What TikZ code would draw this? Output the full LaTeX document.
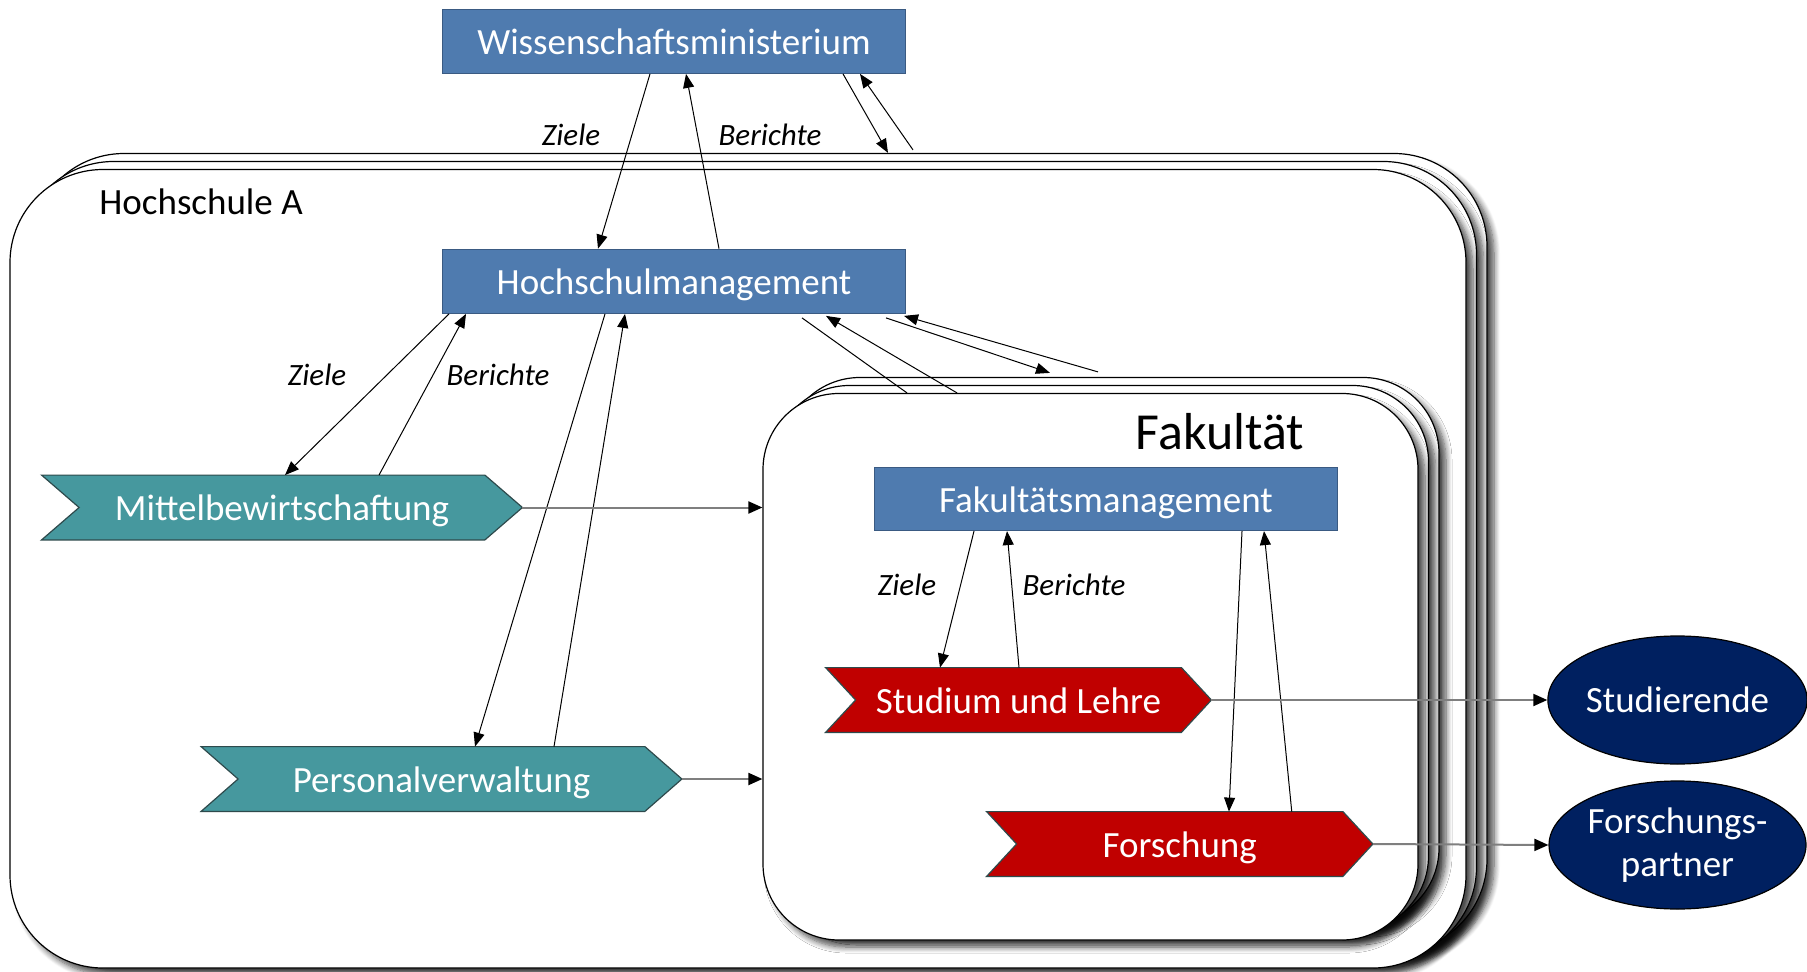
\documentclass[tikz,border=0pt]{standalone}
\usepackage{fontspec}
\setmainfont{Carlito}
\usetikzlibrary{arrows.meta,shadows.blur,shapes.geometric}
\definecolor{boxblue}{HTML}{4F7BAF}
\definecolor{boxline}{HTML}{3A5A82}
\definecolor{tealc}{HTML}{46989E}
\definecolor{redc}{HTML}{C00000}
\definecolor{navyc}{HTML}{002060}
\definecolor{flowgray}{HTML}{7F7F7F}
\definecolor{chevline}{HTML}{2E4A4C}
\pgfdeclarelayer{base}
\pgfdeclarelayer{bg}
\pgfsetlayers{base,bg,main}
\newcommand\mainfs{\fontsize{18.5pt}{21pt}\selectfont}
\newcommand\mychev[3]{%
  \begin{pgfonlayer}{bg}
  \draw[line width=0.6pt, draw=chevline, fill=#3] (#1.north west) -- ([xshift=-#2]#1.north east) -- (#1.east)
    -- ([xshift=-#2]#1.south east) -- (#1.south west) -- ([xshift=#2]#1.west) -- cycle;
  \end{pgfonlayer}}
\begin{document}
\begin{tikzpicture}[x=0.5pt,y=-0.5pt,
  stackbig/.style={draw=black, line width=0.6pt, fill=white, rounded corners=46.5pt, inner sep=0pt,
    minimum width=728pt, minimum height=399.25pt,
    blur shadow={shadow xshift=3.5pt, shadow yshift=-3.5pt, shadow blur radius=3pt, shadow blur steps=8, shadow opacity=70}},
  stackfak/.style={draw=black, line width=0.6pt, fill=white, rounded corners=38pt, inner sep=0pt,
    minimum width=327.5pt, minimum height=273.25pt,
    blur shadow={shadow xshift=3.5pt, shadow yshift=-3.5pt, shadow blur radius=3pt, shadow blur steps=8, shadow opacity=70}},
  fixtext/.style={text height=13.5pt, text depth=0.5pt},
  bluebox/.style={draw=boxline, line width=0.6pt, fill=boxblue, text=white, font=\mainfs, fixtext,
    inner sep=0pt, minimum width=231.5pt, minimum height=32pt},
  chevnode/.style={inner sep=0pt, text=white, font=\mainfs, fixtext, minimum height=32pt},
  oval/.style={ellipse, draw=black, line width=0.6pt, fill=navyc, text=white,
    font=\fontsize{18.5pt}{21.8pt}\selectfont,
    inner sep=0pt, minimum width=128.5pt, minimum height=64pt, align=center},
  lbl/.style={font=\fontsize{15.5pt}{18pt}\selectfont\itshape, inner sep=0pt},
  conn/.style={line width=0.5pt, -{Triangle[length=7pt,width=5.5pt]}},
  flow/.style={draw=flowgray, line width=1pt, -{Triangle[length=7pt,width=6pt,color=black]}}
]
\useasboundingbox (0,0) rectangle (1807,972);

% stacked containers
\begin{pgfonlayer}{base}
\node[stackbig] (hsC) at (759,552.75) {};
\node[stackbig] (hsB) at (748.5,560.75) {};
\node[stackbig] (hsA) at (738,568.75) {};
\node[stackfak] (fakC) at (1111.5,650.75) {};
\node[stackfak] (fakB) at (1101,658.75) {};
\node[stackfak] (fak) at (1090.5,666.75) {};
\end{pgfonlayer}

\node[anchor=west, font=\mainfs, inner sep=0pt] (hsAlbl) at (99,202) {Hochschule A};
\node[font=\fontsize{26pt}{30pt}\selectfont, inner sep=0pt] (faklbl) at (1220,432) {Fakultät};

% boxes
\node[bluebox] (wiss) at (674,41.3) {Wissenschaftsministerium};
\node[bluebox] (hm) at (674,281.3) {Hochschulmanagement};
\node[bluebox, minimum width=231.7pt, minimum height=31.5pt] (fm) at (1106,499) {Fakultätsmanagement};

% chevrons
\node[chevnode, minimum width=240pt] (mittel) at (282,507.5) {Mittelbewirtschaftung};
\mychev{mittel}{18.75pt}{tealc}
\node[chevnode, minimum width=240pt] (personal) at (441.5,779) {Personalverwaltung};
\mychev{personal}{18.5pt}{tealc}
\node[chevnode, minimum width=192.5pt] (studium) at (1018.5,700) {Studium und Lehre};
\mychev{studium}{15pt}{redc}
\node[chevnode, minimum width=192.75pt] (forschung) at (1179.75,844) {Forschung};
\mychev{forschung}{15pt}{redc}

% ellipses
\node[oval] (stud) at (1677.5,700) {Studierende};
\node[oval] (fpartner) at (1677.5,845) {Forschungs-\\partner};

% labels
\node[lbl] (z1) at (571,135) {Ziele};
\node[lbl] (b1) at (770,135) {Berichte};
\node[lbl] (z2) at (317,375) {Ziele};
\node[lbl] (b2) at (498,375) {Berichte};
\node[lbl] (z3) at (907,585) {Ziele};
\node[lbl] (b3) at (1074,585) {Berichte};

% connectors
\draw[conn] ([xshift=-12pt]wiss.south) -- ([xshift=-38pt]hm.north);
\draw[conn] ([xshift=22.5pt]hm.north) -- ([xshift=6pt]wiss.south);
\draw[conn] ([xshift=84.5pt]wiss.south) -- ([xshift=64.5pt]hsC.north);
\draw[conn] ([xshift=77pt,yshift=1.5pt]hsC.north) -- ([xshift=93pt]wiss.south);

\draw[conn] ([xshift=-112.5pt]hm.south) -- ([xshift=1.5pt]mittel.north);
\draw[conn] ([xshift=48.5pt]mittel.north) -- ([xshift=-104pt]hm.south);
\draw[conn] ([xshift=-34.5pt]hm.south) -- ([xshift=16.75pt]personal.north);
\draw[conn] ([xshift=56.25pt]personal.north) -- ([xshift=-24.5pt]hm.south);

\draw[line width=0.5pt] ([xshift=-91.75pt]fak.north) -- ([xshift=64pt,yshift=-2pt]hm.south);
\draw[conn] ([xshift=-66.75pt]fak.north) -- ([xshift=76pt,yshift=-1pt]hm.south);
\draw[conn] ([xshift=106pt,yshift=-2pt]hm.south) -- ([xshift=-30.75pt,yshift=2pt]fakC.north);
\draw[conn] ([xshift=-6.75pt,yshift=2.5pt]fakC.north) -- ([xshift=115pt,yshift=-1pt]hm.south);

\draw[conn] ([xshift=-66pt]fm.south) -- ([xshift=-39.25pt]studium.north);
\draw[conn] ([xshift=0.25pt]studium.north) -- ([xshift=-49.5pt]fm.south);
\draw[conn] ([xshift=68pt]fm.south) -- ([xshift=24.6pt]forschung.north);
\draw[conn] ([xshift=56pt]forschung.north) -- ([xshift=79pt]fm.south);

\draw[flow] (mittel.east) -- (mittel.east -| fak.west);
\draw[flow] (personal.east) -- (personal.east -| fak.west);
\draw[flow] (studium.east) -- (stud.west);
\draw[flow] (forschung.east) -- (fpartner.west);
\end{tikzpicture}
\end{document}
